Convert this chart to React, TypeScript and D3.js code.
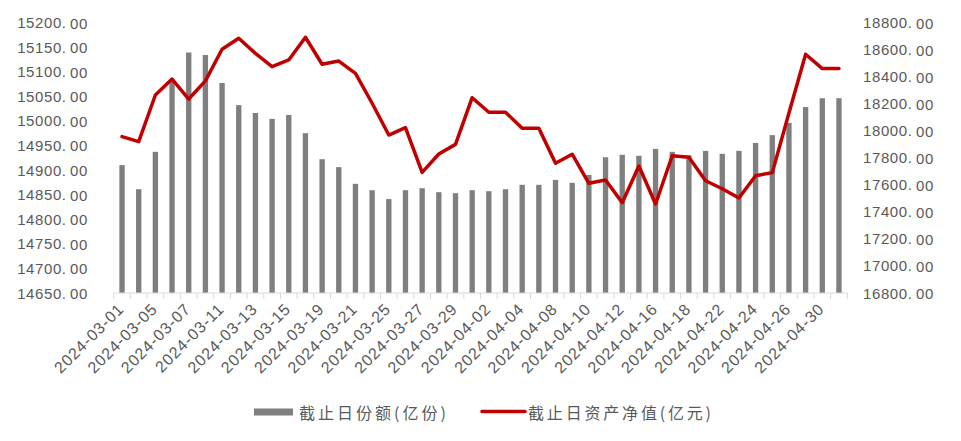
import React from "react";
import * as d3 from "d3";

const dates = [
  "2024-03-01","2024-03-04","2024-03-05","2024-03-06","2024-03-07","2024-03-08",
  "2024-03-11","2024-03-12","2024-03-13","2024-03-14","2024-03-15",
  "2024-03-18","2024-03-19","2024-03-20","2024-03-21","2024-03-22",
  "2024-03-25","2024-03-26","2024-03-27","2024-03-28","2024-03-29",
  "2024-04-01","2024-04-02","2024-04-03","2024-04-04","2024-04-07",
  "2024-04-08","2024-04-09","2024-04-10","2024-04-11","2024-04-12",
  "2024-04-15","2024-04-16","2024-04-17","2024-04-18","2024-04-19",
  "2024-04-22","2024-04-23","2024-04-24","2024-04-25","2024-04-26",
  "2024-04-29","2024-04-30","2024-05-06"
];

const shares = [
  14910, 14861, 14937, 15080, 15139, 15134, 15077, 15032, 15016, 15004, 15012,
  14975, 14922, 14906, 14872, 14859, 14841, 14859, 14863, 14855, 14853,
  14859, 14857, 14861, 14870, 14870, 14880, 14874, 14890, 14926, 14931,
  14929, 14943, 14937, 14930, 14939, 14933, 14939, 14955, 14971, 14996,
  15028, 15046, 15046
];

const netAssets = [
  17956, 17919, 18264, 18382, 18234, 18368, 18602, 18683, 18572, 18473, 18523,
  18691, 18491, 18515, 18424, 18203, 17968, 18022, 17692, 17828, 17899,
  18244, 18136, 18136, 18018, 18018, 17759, 17826, 17611, 17636, 17468,
  17739, 17458, 17815, 17803, 17630, 17571, 17502, 17667, 17690, 18131,
  18565, 18459, 18459
];

const leftTicks = d3.range(14650, 15200.1, 50);
const rightTicks = d3.range(16800, 18800.1, 200);

const seriesNames = ["截止日份额(亿份)", "截止日资产净值(亿元)"];

const W = 961;
const H = 441;
const plotLeft = 113.7;
const plotRight = 847.3;
const plotTop = 22.5;
const plotBottom = 293;
const textColor = "#595959";
const font = "'Liberation Sans', Arial, sans-serif";
const cjkFont = "'Noto Sans CJK SC', sans-serif";

function NumLabel({ v, x, y, anchor }: { v: number; x: number; y: number; anchor: string }) {
  const s = d3.format(".2f")(v);
  const [a, b] = s.split(".");
  return (
    <text x={x} y={y} textAnchor={anchor} dominantBaseline="central" fontSize={15} letterSpacing={0.6} fill={textColor} fontFamily={font}>
      {a + "."}
      <tspan dx={3.5}>{b}</tspan>
    </text>
  );
}

export default function App() {
  const x = d3.scaleBand<string>().domain(dates).range([plotLeft, plotRight]).paddingInner(0.68).paddingOuter(0.34);
  const step = x.step();
  const yL = d3.scaleLinear().domain([14650, 15200]).range([plotBottom, plotTop]);
  const yR = d3.scaleLinear().domain([16800, 18800]).range([plotBottom, plotTop]);
  const cx = (d: string) => (x(d) as number) + x.bandwidth() / 2;

  const line = d3
    .line<number>()
    .x((_, i) => cx(dates[i]))
    .y((v) => yR(v));

  const boundaries = d3.range(dates.length + 1).map((i) => plotLeft + i * step);

  return (
    <svg width={W} height={H} style={{ position: "absolute", left: 0, top: 0 }}>
      <rect width={W} height={H} fill="#ffffff" />
      {shares.map((v, i) => (
        <rect
          key={i}
          x={x(dates[i])}
          y={yL(v)}
          width={x.bandwidth()}
          height={plotBottom - yL(v)}
          fill="#7f7f7f"
        />
      ))}
      <line x1={plotLeft} x2={plotRight} y1={plotBottom} y2={plotBottom} stroke="#d9d9d9" strokeWidth={1} />
      {boundaries.map((bx, i) => (
        <line key={i} x1={bx} x2={bx} y1={plotBottom} y2={plotBottom + 6} stroke="#d9d9d9" strokeWidth={1} />
      ))}
      <path d={line(netAssets) || ""} fill="none" stroke="#c00000" strokeWidth={3.5} strokeLinejoin="round" strokeLinecap="round" />
      {leftTicks.map((t) => (
        <NumLabel key={t} v={t} x={88} y={yL(t)} anchor="end" />
      ))}
      {rightTicks.map((t) => (
        <NumLabel key={t} v={t} x={863} y={yR(t)} anchor="start" />
      ))}
      {dates.map((d, i) =>
        i % 2 === 0 ? (
          <text
            key={d}
            transform={`translate(${cx(d) + 3},${plotBottom + 17}) rotate(-45)`}
            textAnchor="end"
            fontSize={16}
            letterSpacing={0.9}
            fill={textColor}
            fontFamily={font}
          >
            {d}
          </text>
        ) : null
      )}
      <rect x={254} y={408.5} width={39} height={7} fill="#7f7f7f" />
      <text x={299} y={412} dominantBaseline="central" fontSize={16} fill={textColor} fontFamily={cjkFont} textLength={147} lengthAdjust="spacing">
        {seriesNames[0]}
      </text>
      <line x1={482} x2={525} y1={411.5} y2={411.5} stroke="#c00000" strokeWidth={3.5} strokeLinecap="round" />
      <text x={528} y={412} dominantBaseline="central" fontSize={16} fill={textColor} fontFamily={cjkFont} textLength={183} lengthAdjust="spacing">
        {seriesNames[1]}
      </text>
    </svg>
  );
}
